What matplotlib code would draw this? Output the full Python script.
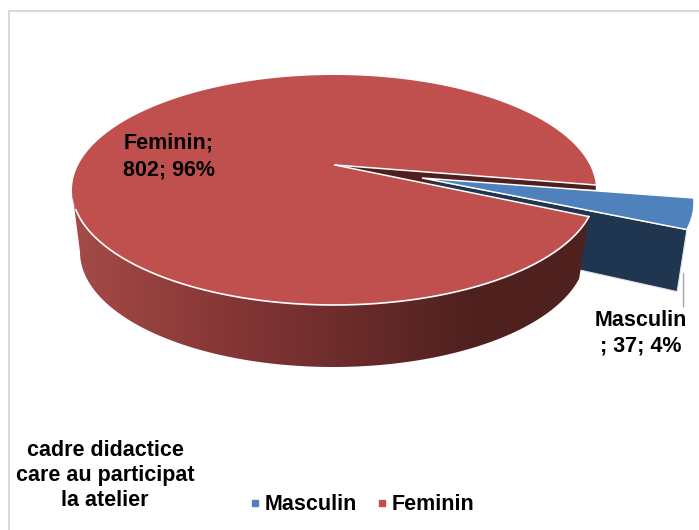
import numpy as np
import matplotlib
matplotlib.use("Agg")
import matplotlib.pyplot as plt
from matplotlib.lines import Line2D
from matplotlib.patches import Polygon

categories = ["Masculin", "Feminin"]
values = [37, 802]
percent_labels = ["4%", "96%"]
title_lines = ["cadre didactice", "care au participat", "la atelier"]

plt.rcParams['font.family'] = ['Liberation Sans', 'DejaVu Sans']

# projection of the 3d pie, in pixels of the picture
top_c = (334, 190)
top_r = (262, 115)
low_c = (333, 252)
low_r = (253, 115)
apex = (335, 165)
apex_low = (335, 222)
start = 2.5
blue_shift = (98, 13)
blue_apex_shift = (87, 13)

RED = "#C0504D"
BLUE = "#4F81BD"
NAVY = "#1F3550"
DARK_RED = "#4E1F1E"


def rim(c, r, t):
    t = np.radians(t)
    return np.column_stack([c[0] + r[0] * np.cos(t), c[1] - r[1] * np.sin(t)])


def main():
    fig = plt.figure(figsize=(6.99, 5.3), dpi=100)
    ax = fig.add_axes([0, 0, 1, 1])
    ax.axis("off")

    # chart frame, only top and left are inside the picture
    ax.plot([9, 9, 699], [530, 11, 11], color="#D9D9D9", lw=1.5, zorder=1)

    sweep = 360 * values[0] / sum(values)
    end = start - sweep

    # exploded slice
    blue_t = np.linspace(start, end, 30)
    blue_top = rim(top_c, top_r, blue_t) + blue_shift
    b_apex = np.array(apex) + blue_apex_shift
    b_apex_low = np.array(apex_low) + blue_apex_shift
    lower_pt = rim(low_c, low_r, [end])[0] + blue_shift
    navy = [b_apex, blue_top[-1], lower_pt, b_apex_low]
    ax.add_patch(Polygon(navy, fc=NAVY, ec="#DDE3EA", lw=0.8, zorder=2))
    ax.plot([683, 683], [273, 306], color="#A6A6A6", lw=1, zorder=3)

    # side of the big slice, gradient clipped to its shape
    side_t = np.linspace(end, -180, 200)
    side_poly = np.vstack([rim(top_c, top_r, side_t), rim(low_c, low_r, side_t)[::-1]])
    xs = np.arange(60, 610)
    grad = np.column_stack([np.interp(xs, [72, 220, 480, 600], ch) for ch in
                            ([165, 135, 78, 78], [75, 55, 32, 32], [72, 55, 30, 30])]) / 255
    clip = Polygon(side_poly, fc="none", ec="none", transform=ax.transData)
    ax.add_patch(clip)
    im = ax.imshow(grad[np.newaxis, :, :], extent=(60, 610, 380, 180), aspect="auto", zorder=4)
    im.set_clip_path(clip)

    # cut face seen in the gap
    p1 = rim(top_c, top_r, [start])[0]
    p2 = rim(top_c, top_r, [end])[0]
    cut = [apex, p1, p1 + (0, 5), p2 * 0.33 + np.array(apex) * 0.67]
    ax.add_patch(Polygon(cut, fc=DARK_RED, ec="none", zorder=5))

    # top of the big slice
    top_t = np.linspace(start, end + 360, 300)
    red_top = np.vstack([[apex], rim(top_c, top_r, top_t)])
    ax.add_patch(Polygon(red_top, fc=RED, ec="none", zorder=6))
    # white edges: the two cuts and the front of the rim
    ax.plot([apex[0], p1[0]], [apex[1], p1[1]], color="white", lw=1.1, zorder=7)
    ax.plot([apex[0], p2[0]], [apex[1], p2[1]], color="white", lw=1.1, zorder=7)
    ax.plot(*rim(top_c, top_r, np.linspace(end, -170, 200)).T, color="white", lw=1.2, zorder=7)

    # top of the exploded slice
    blue_poly = np.vstack([[b_apex], blue_top])
    ax.add_patch(Polygon(blue_poly, fc=BLUE, ec="white", lw=1.1, zorder=8))

    txt = dict(fontsize=15.5, fontweight="bold", color="black", ha="center", va="center", zorder=10)
    ax.text(169, 143, categories[1] + ";", **txt)
    ax.text(169, 170, "%d; %s" % (values[1], percent_labels[1]), **txt)
    ax.text(641, 321, categories[0], **txt)
    ax.text(641, 346, "; %d; %s" % (values[0], percent_labels[0]), **txt)
    for y, line in zip([451, 475, 500], title_lines):
        ax.text(105, y, line, **txt)

    ax.set_xlim(0, 699)
    ax.set_ylim(530, 0)

    handles = [Line2D([], [], ls="", marker="s", ms=4.5, color=c) for c in (BLUE, RED)]
    ax.legend(handles, categories, loc="center", bbox_to_anchor=(362, 505), bbox_transform=ax.transData,
              ncol=2, frameon=False, handlelength=0.5, handletextpad=0.22, columnspacing=0.9,
              prop=dict(size=15.5, weight="bold"))

    fig.savefig("out.png", dpi=100)


if __name__ == "__main__":
    main()
